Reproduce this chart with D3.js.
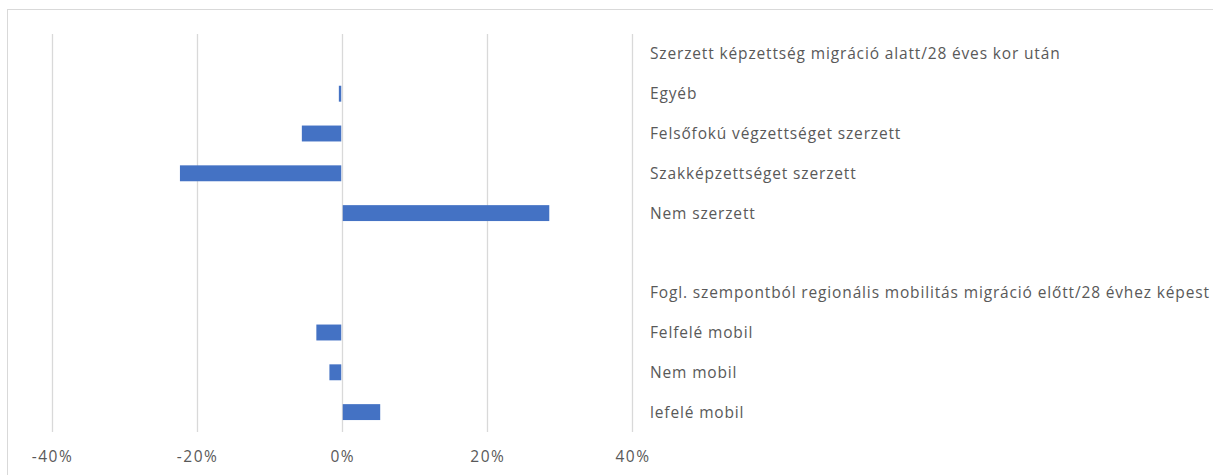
<!DOCTYPE html>
<html><head><meta charset="utf-8">
<script src="https://cdn.jsdelivr.net/npm/d3@7"></script>
<style>
html,body{margin:0;padding:0;background:#fff;}
svg{display:block;}
text{font-family:"Open Sans",sans-serif;fill:#595959;}
</style></head>
<body>
<script>
const categories = [
  "Szerzett képzettség migráció alatt/28 éves kor után",
  "Egyéb",
  "Felsőfokú végzettséget szerzett",
  "Szakképzettséget szerzett",
  "Nem szerzett",
  "",
  "Fogl. szempontból regionális mobilitás migráció előtt/28 évhez képest",
  "Felfelé mobil",
  "Nem mobil",
  "lefelé mobil"
];
const values = [null, -0.4, -5.5, -22.3, 28.6, null, null, -3.5, -1.7, 5.3];
const xTicks = [-40, -20, 0, 20, 40];
const tickLabels = ["-40%", "-20%", "0%", "20%", "40%"];

const W = 1213, H = 475;
const svg = d3.select("body").append("svg").attr("width", W).attr("height", H);

// chart frame
svg.append("rect").attr("x", 7.5).attr("y", 9.5).attr("width", W).attr("height", H)
  .attr("fill", "none").attr("stroke", "#d9d9d9").attr("stroke-width", 1);

const x = d3.scaleLinear().domain([-40, 40]).range([51.5, 632]);
const y = d3.scaleBand().domain(d3.range(categories.length)).range([34, 432]).paddingInner(0.6).paddingOuter(0.3);

// gridlines
svg.append("g").selectAll("line").data(xTicks).join("line")
  .attr("x1", d => Math.round(x(d)) + 0.5).attr("x2", d => Math.round(x(d)) + 0.5)
  .attr("y1", 34).attr("y2", 432)
  .attr("stroke", "#d9d9d9").attr("stroke-width", 1.3);

// bars
const data = values.map((v, i) => ({i, v})).filter(d => d.v !== null);
svg.append("g").selectAll("rect").data(data).join("rect")
  .attr("x", d => d.v < 0 ? x(d.v) : x(0) + 1)
  .attr("width", d => Math.abs(x(d.v) - x(0)) - (d.v < 0 ? 0.5 : 1))
  .attr("y", d => y(d.i))
  .attr("height", y.bandwidth())
  .attr("fill", "#4472c4");

// category labels (right side)
svg.append("g").selectAll("text").data(categories).join("text")
  .attr("x", 650)
  .attr("y", (d, i) => y(i) + y.bandwidth() / 2)
  .attr("dy", "0.35em")
  .attr("font-size", 15.5)
  .attr("letter-spacing", 0.85)
  .text(d => d);

// x tick labels
svg.append("g").selectAll("text").data(xTicks).join("text")
  .attr("x", d => x(d) + 1)
  .attr("y", 457)
  .attr("dy", "0.35em")
  .attr("text-anchor", "middle")
  .attr("font-size", 15.5)
  .attr("letter-spacing", 1.5)
  .text((d, i) => tickLabels[i]);
</script>
</body></html>
